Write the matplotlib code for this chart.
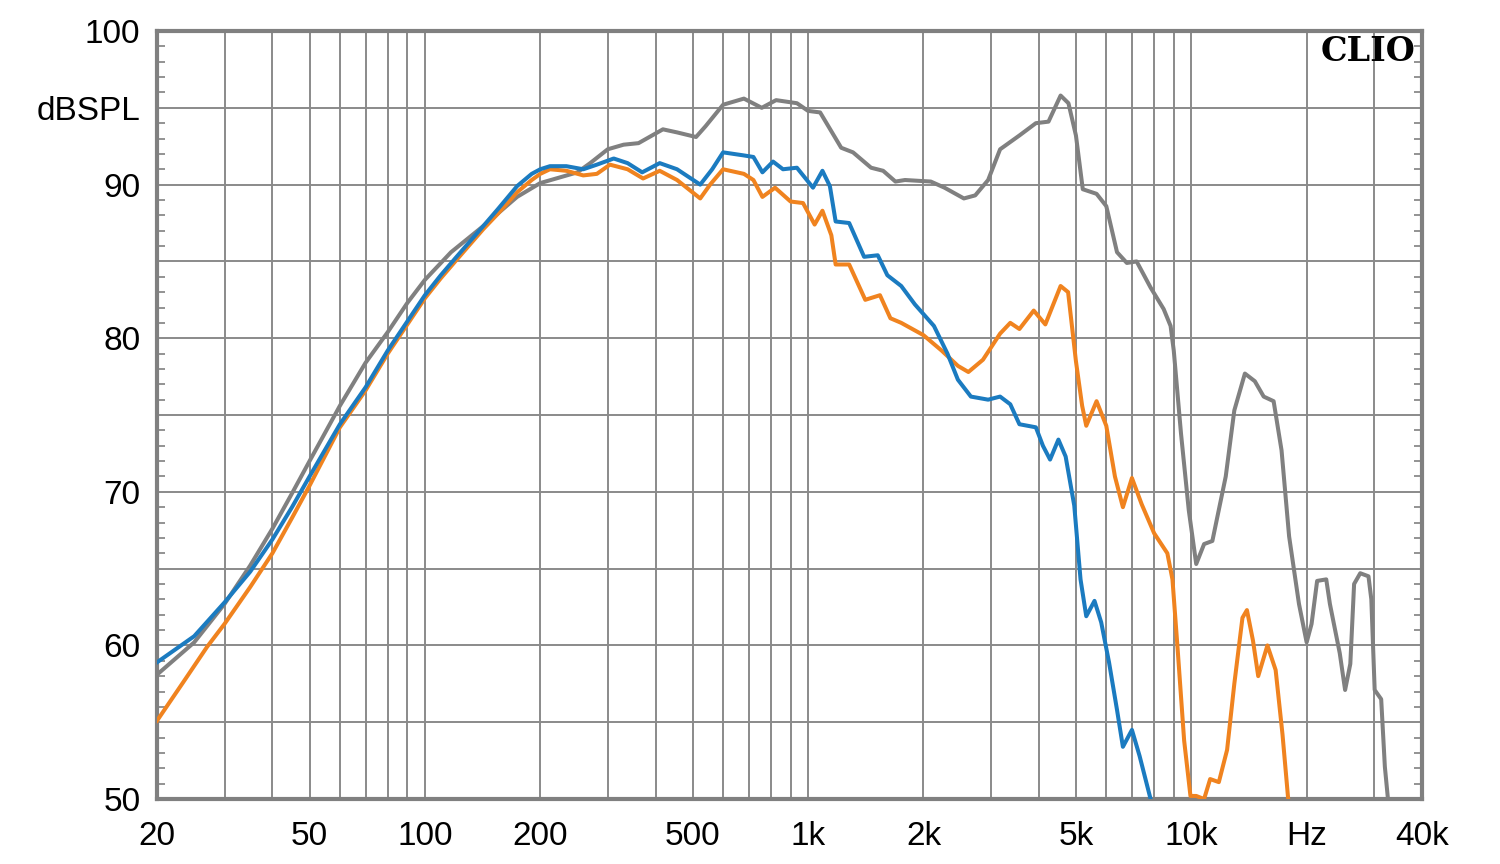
import matplotlib
matplotlib.use("Agg")
import matplotlib.pyplot as plt
from matplotlib.ticker import FixedLocator, FixedFormatter, MultipleLocator

plt.rcParams['font.family'] = ['Liberation Sans', 'DejaVu Sans']

# frequenze (Hz) e livelli (dB SPL)
blue_f = [20, 25, 30, 35, 40, 45, 50, 60, 70, 80, 90, 100, 110, 120, 130, 142, 155, 174,
          190, 200, 212, 234, 259, 281, 311, 338, 369, 410, 455, 523, 562, 600, 680, 720,
          760, 810, 860, 935, 1030, 1090, 1140, 1180, 1280, 1400, 1520, 1610, 1750, 1900,
          2130, 2310, 2460, 2660, 2950, 3170, 3370, 3560, 3930, 4100, 4280, 4500, 4700,
          4950, 5140, 5320, 5590, 5820, 6100, 6400, 6630, 7000, 7330, 7830]
blue_db = [58.9, 60.6, 62.8, 64.8, 66.9, 69.0, 71.0, 74.4, 76.8, 79.2, 81.1, 82.8, 84.1,
           85.2, 86.2, 87.3, 88.4, 89.9, 90.7, 91.0, 91.2, 91.2, 91.0, 91.3, 91.7, 91.4,
           90.8, 91.4, 91.0, 90.0, 91.0, 92.1, 91.9, 91.8, 90.8, 91.5, 91.0, 91.1, 89.8,
           90.9, 89.9, 87.6, 87.5, 85.3, 85.4, 84.1, 83.4, 82.2, 80.8, 79.0, 77.3, 76.2,
           76.0, 76.2, 75.7, 74.4, 74.2, 73.0, 72.1, 73.4, 72.3, 69.1, 64.3, 61.9, 62.9,
           61.5, 58.9, 55.8, 53.4, 54.5, 52.8, 50.0]

orange_f = [20, 23.4, 27, 30, 35, 40, 45, 50, 60, 70, 80, 90, 100, 110, 120, 130, 142, 155,
            174, 190, 200, 212, 234, 259, 281, 304, 338, 371, 410, 455, 523, 555, 600, 680,
            720, 760, 820, 900, 970, 1040, 1090, 1150, 1180, 1280, 1410, 1540, 1640, 1750,
            2000, 2230, 2460, 2620, 2860, 3170, 3370, 3560, 3880, 4160, 4560, 4770, 5000,
            5190, 5320, 5660, 6000, 6320, 6630, 7000, 7420, 8000, 8660, 8930, 9210, 9580,
            9950, 10300, 10800, 11200, 11800, 12400, 12950, 13600, 13970, 14490, 14950,
            15800, 16600, 17300, 17900]
orange_db = [55.1, 57.6, 59.9, 61.4, 63.8, 66.0, 68.3, 70.4, 74.2, 76.6, 79.0, 80.9, 82.6,
             83.9, 85.0, 86.0, 87.1, 88.1, 89.5, 90.3, 90.7, 91.0, 90.9, 90.6, 90.7, 91.3,
             91.0, 90.4, 90.9, 90.3, 89.1, 90.0, 91.0, 90.7, 90.3, 89.2, 89.8, 88.9, 88.8,
             87.4, 88.3, 86.7, 84.8, 84.8, 82.5, 82.8, 81.3, 81.0, 80.2, 79.2, 78.2, 77.8,
             78.6, 80.3, 81.0, 80.6, 81.8, 80.9, 83.4, 83.0, 78.5, 75.6, 74.3, 75.9, 74.3,
             71.0, 69.0, 70.9, 69.2, 67.3, 66.0, 64.3, 59.8, 53.8, 50.2, 50.2, 50.0, 51.3,
             51.1, 53.2, 57.5, 61.8, 62.3, 60.3, 58.0, 60.0, 58.4, 54.2, 50.0]

gray_f = [20, 25, 30, 35, 40, 45, 50, 60, 70, 80, 90, 100, 117, 142, 174, 200, 250, 270,
          300, 330, 361, 418, 455, 510, 540, 600, 680, 757, 825, 935, 1000, 1075, 1220,
          1310, 1460, 1570, 1690, 1790, 2090, 2270, 2550, 2730, 2950, 3170, 3560, 3930,
          4240, 4560, 4780, 5000, 5210, 5660, 6000, 6400, 6790, 7200, 7830, 8470, 8830,
          9000, 9400, 9850, 10300, 10800, 11350, 12300, 12950, 13800, 14650, 15450, 16400,
          17200, 18000, 19100, 20000, 20600, 21300, 22500, 23000, 24400, 25200, 26000,
          26600, 27600, 29000, 29500, 30100, 31300, 32000, 32600]
gray_db = [58.1, 60.2, 62.7, 65.2, 67.6, 69.9, 72.0, 75.6, 78.4, 80.4, 82.3, 83.8, 85.6,
           87.3, 89.2, 90.1, 90.8, 91.4, 92.3, 92.6, 92.7, 93.6, 93.4, 93.1, 93.8, 95.2,
           95.6, 95.0, 95.5, 95.3, 94.8, 94.7, 92.4, 92.1, 91.1, 90.9, 90.2, 90.3, 90.2,
           89.8, 89.1, 89.3, 90.3, 92.3, 93.2, 94.0, 94.1, 95.8, 95.3, 93.2, 89.7, 89.4,
           88.6, 85.6, 84.9, 85.0, 83.3, 81.9, 80.8, 79.2, 73.8, 68.8, 65.3, 66.6, 66.8,
           71.0, 75.3, 77.7, 77.2, 76.2, 75.9, 72.7, 67.1, 62.7, 60.2, 61.4, 64.2, 64.3,
           62.7, 59.5, 57.1, 58.8, 64.0, 64.7, 64.5, 63.0, 57.1, 56.5, 52.1, 50.0]

x_ticks = [20, 50, 100, 200, 500, 1000, 2000, 5000, 10000, 20000, 40000]
x_labels = ['20', '50', '100', '200', '500', '1k', '2k', '5k', '10k', 'Hz', '40k']
y_ticks = [50, 55, 60, 65, 70, 75, 80, 85, 90, 95, 100]
y_labels = ['50', '', '60', '', '70', '', '80', '', '90', 'dBSPL', '100']

grid_col = '#8a8a8a'

fig = plt.figure(figsize=(15, 8.64), dpi=100)
ax = fig.add_axes([0.1047, 0.0752, 0.8433, 0.8889])

ax.plot(gray_f, gray_db, color='#808080', lw=2.9, zorder=3)
ax.plot(orange_f, orange_db, color='#f0831f', lw=2.9, zorder=4)
ax.plot(blue_f, blue_db, color='#1b7bc0', lw=2.9, zorder=5)

ax.set_xscale('log')
ax.set_xlim(20, 40000)
ax.set_ylim(50, 100)

# griglia logaritmica
minors = [m * 10 ** k for k in range(1, 5) for m in range(1, 10)]
minors = [v for v in minors if 20 <= v <= 40000]
ax.xaxis.set_major_locator(FixedLocator(x_ticks))
ax.xaxis.set_major_formatter(FixedFormatter(x_labels))
ax.xaxis.set_minor_locator(FixedLocator(minors))
ax.yaxis.set_major_locator(FixedLocator(y_ticks))
ax.yaxis.set_major_formatter(FixedFormatter(y_labels))
ax.yaxis.set_minor_locator(MultipleLocator(1))

ax.grid(True, which='both', axis='x', color=grid_col, lw=1.4)
ax.grid(True, which='major', axis='y', color=grid_col, lw=1.4)

ax.tick_params(axis='x', which='both', length=0, labelsize=24, pad=16)
ax.tick_params(axis='y', which='major', length=0, labelsize=24, pad=12)
ax.tick_params(axis='y', which='minor', direction='in', length=6, width=1.3,
               color=grid_col, left=True, right=True)

for s in ax.spines.values():
    s.set_color('#808080')
    s.set_linewidth(3.0)

ax.text(0.995, 0.995, 'CLIO', transform=ax.transAxes, ha='right', va='top',
        fontsize=24, fontweight='bold', family=['DejaVu Serif'], zorder=6)

fig.savefig('out.png', dpi=100)
